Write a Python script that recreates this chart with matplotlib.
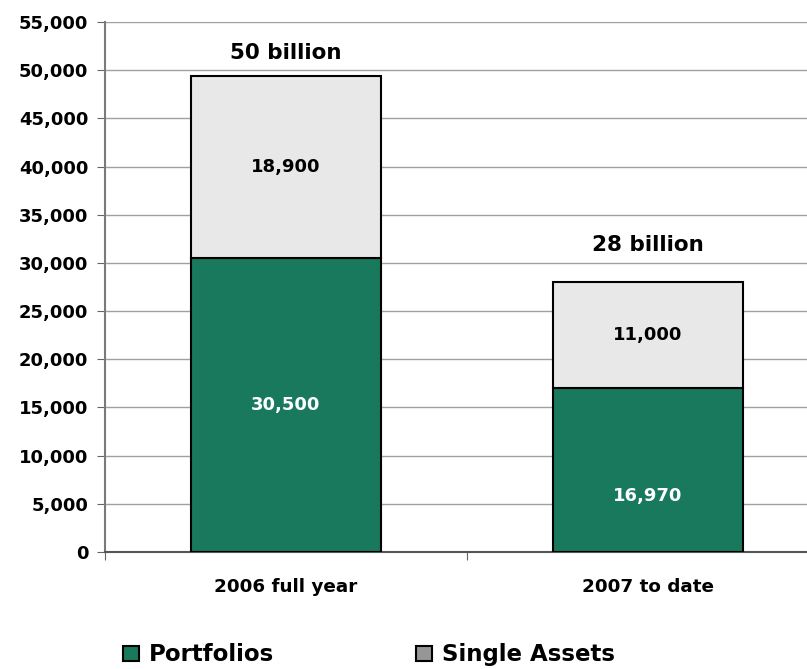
import matplotlib.pyplot as plt
from matplotlib.patches import Patch
from matplotlib.ticker import FuncFormatter

# Transaction volume by type (in millions)
categories = ['2006 full year', '2007 to date']
portfolios = [30500, 16970]
single_assets = [18900, 11000]
totals_text = ['50 billion', '28 billion']

green = '#18795d'
light = '#e8e8e8'

plt.rcParams['font.family'] = ['DejaVu Sans']
plt.rcParams['font.weight'] = 'bold'

fig = plt.figure(figsize=(8.07, 6.69), dpi=100)
ax = fig.add_axes([0.130, 0.175, 0.897, 0.792])

x = range(len(categories))
width = 0.525
ax.bar(x, portfolios, width, color=green, edgecolor='black', linewidth=1.5, zorder=3)
ax.bar(x, single_assets, width, bottom=portfolios, color=light,
       edgecolor='black', linewidth=1.5, zorder=3)

# segment labels
label_pos = [0.5, 0.34]
for i in x:
    ax.text(i, portfolios[i] * label_pos[i], f'{portfolios[i]:,}', color='white',
            ha='center', va='center', fontsize=13, fontweight='bold', zorder=4)
    ax.text(i, portfolios[i] + single_assets[i] / 2, f'{single_assets[i]:,}',
            color='black', ha='center', va='center', fontsize=13,
            fontweight='bold', zorder=4)

# totals above bars
total_offset = [2350, 3900]
for i in x:
    total = portfolios[i] + single_assets[i]
    ax.text(i, total + total_offset[i], totals_text[i], ha='center', va='center',
            fontsize=15.5, fontweight='bold')

ax.set_ylim(0, 55000)
ax.set_yticks(range(0, 55001, 5000))
ax.yaxis.set_major_formatter(FuncFormatter(lambda v, p: f'{int(v):,}'))
ax.set_xlim(-0.5, 1.5)
ax.set_xticks([-0.5, 0.5, 1.5])
ax.set_xticklabels([])
ax.set_xticks(list(x), minor=True)
ax.set_xticklabels(categories, minor=True, fontsize=13.2, fontweight='bold')
ax.tick_params(axis='x', which='minor', length=0, pad=19)
ax.tick_params(axis='x', which='major', length=6, direction='out', color='#666666')
ax.tick_params(axis='y', length=6, direction='out', color='#666666',
               labelsize=13, pad=6)

ax.grid(axis='y', color='#a0a0a0', linewidth=1, zorder=0)
for s in ['top', 'right']:
    ax.spines[s].set_visible(False)
ax.spines['left'].set_color('#7a7a7a')
ax.spines['left'].set_linewidth(1.5)
ax.spines['bottom'].set_color('#555555')
ax.spines['bottom'].set_linewidth(1.5)

handles = [Patch(facecolor=green, edgecolor='black', linewidth=1.5, label='Portfolios'),
           Patch(facecolor='#969696', edgecolor='black', linewidth=1.5, label='Single Assets')]
fig.legend(handles=handles, loc='center left', bbox_to_anchor=(0.153, 0.021), ncol=2,
           frameon=False, prop={'size': 16.5, 'weight': 'bold'}, borderpad=0,
           borderaxespad=0, handlelength=0.68, handleheight=0.64,
           handletextpad=0.44, columnspacing=6.2)

fig.savefig('out.png', dpi=100)
